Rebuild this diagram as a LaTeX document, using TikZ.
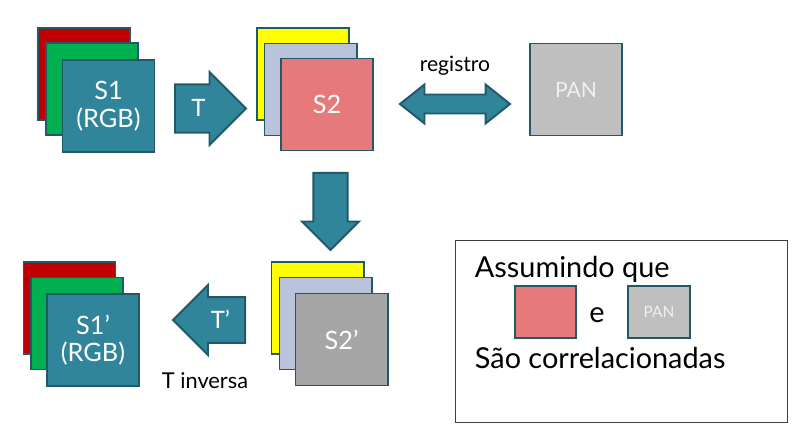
\documentclass[tikz,border=0pt]{standalone}
\usepackage{fontspec}
\setmainfont{Lato}
\usetikzlibrary{shapes.arrows}
\definecolor{cardteal}{RGB}{49,133,155}
\definecolor{cardedge}{RGB}{33,89,104}
\definecolor{cardred}{RGB}{192,0,0}
\definecolor{cardgreen}{RGB}{0,176,80}
\definecolor{cardyellow}{RGB}{255,255,0}
\definecolor{cardslate}{RGB}{185,196,220}
\definecolor{cardsalmon}{RGB}{230,122,122}
\definecolor{pangray}{RGB}{191,191,191}
\definecolor{bandgray}{RGB}{166,166,166}

\begin{document}
\begin{tikzpicture}[x=0.025cm,y=-0.025cm,
  card/.style={draw=cardedge,line width=1.4pt,minimum width=2.3cm,
    minimum height=2.3cm,inner sep=0pt,text=white,align=center,
    font=\fontsize{18}{19.5}\selectfont},
  blockarrow/.style={single arrow,draw=cardedge,fill=cardteal,
    line width=1.4pt,text=white,inner xsep=0pt,text height=12pt,
    text depth=0pt,font=\fontsize{17}{20}\selectfont},
  caption/.style={font=\fontsize{15.5}{18}\selectfont},
  legendtext/.style={anchor=base west,font=\fontsize{20.5}{24}\selectfont}
]
  \useasboundingbox (0,0) rectangle (808,446);

  % S1 (RGB)
  \node[card,fill=cardred] (s1r) at (84,74) {};
  \node[card,fill=cardgreen] (s1g) at (92,89) {};
  \node[card,fill=cardteal] (s1) at (108.5,106) {S1\\(RGB)};

  % S2
  \node[card,fill=cardyellow] (s2y) at (303,74) {};
  \node[card,fill=cardslate] (s2b) at (310.5,89.5) {};
  \node[card,fill=cardsalmon] (s2) at (327,104.5) {S2};

  \node[card,fill=pangray,text=white!94!black,
    font=\fontsize{15}{18}\selectfont] (pan) at (576,89.5) {PAN};

  % transforms
  \node[blockarrow,minimum height=1.775cm,minimum width=1.825cm,
    inner ysep=7.1pt,anchor=tail] (t) at (174,108.5) {T};
  \node[double arrow,draw=cardedge,fill=cardteal,line width=1.4pt,
    inner sep=0.2125cm,minimum height=2.75cm,minimum width=0.8cm,
    double arrow tip angle=77] (reg) at (455,104) {};
  \node[caption,font=\fontsize{15}{18}\selectfont] (regtxt) at (455,66) {registro};
  \node[blockarrow,shape border rotate=270,minimum height=1.925cm,
    minimum width=1.425cm,text height=0pt,inner sep=0.35cm,
    anchor=tail] (down) at (330.5,172) {};

  % S1' and S2'
  \node[card,fill=cardred] (s1pr) at (69.5,308) {};
  \node[card,fill=cardgreen] (s1pg) at (77,323.5) {};
  \node[card,fill=cardteal] (s1p) at (93,340) {S1'\\(RGB)};

  \node[card,fill=cardyellow] (s2py) at (317.5,308) {};
  \node[card,fill=cardslate] (s2pb) at (325.5,323.5) {};
  \node[card,fill=bandgray] (s2p) at (341.5,339.5) {S2'};

  \node[blockarrow,shape border rotate=180,minimum height=1.8cm,
    minimum width=1.75cm,inner ysep=6.8pt,
    anchor=tail] (tinv) at (246,320) {T'};
  \node[caption] (tinvtxt) at (205,381) {T inversa};

  % legend
  \node[draw=black!75,line width=0.6pt,minimum width=8.3cm,
    minimum height=4.55cm,inner sep=0pt] (legend) at (621,331) {};
  \node[legendtext] (assume) at (470,277) {Assumindo que};
  \node[card,fill=cardsalmon,minimum width=1.525cm,minimum height=1.3cm]
    (keys2) at (545.5,312) {};
  \node[legendtext,anchor=base] (and) at (597,322) {e};
  \node[card,fill=pangray,minimum width=1.55cm,minimum height=1.3cm,
    text=white!94!black,font=\fontsize{11}{13}\selectfont]
    (keypan) at (659,312) {PAN};
  \node[legendtext] (corr) at (470,368) {São correlacionadas};
\end{tikzpicture}
\end{document}
